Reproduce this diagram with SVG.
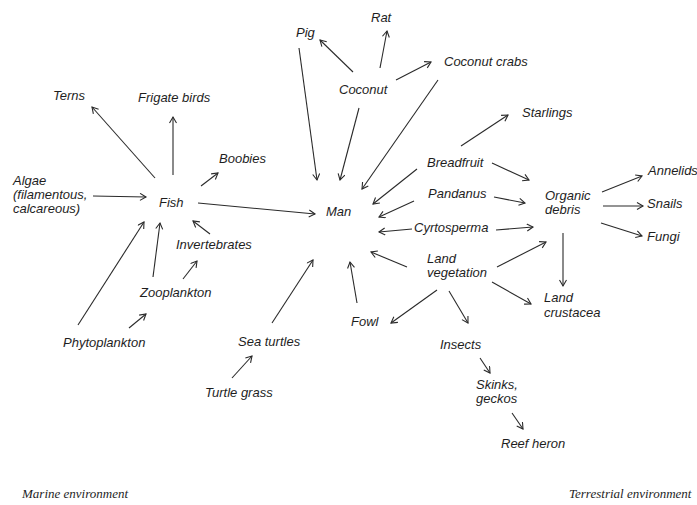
<svg xmlns="http://www.w3.org/2000/svg" width="697" height="505" viewBox="0 0 697 505">
<defs>
<style>
text{font-family:"Liberation Sans",Arial,sans-serif;font-style:italic;font-size:13px;fill:#1e1e1e}
text.env{font-family:"Liberation Serif","Times New Roman",serif;font-size:13px}
#connectors line{stroke:#2a2a2a;stroke-width:1.1;fill:none;marker-end:url(#ah)}
</style>
<marker id="ah" markerUnits="userSpaceOnUse" markerWidth="10" markerHeight="10" refX="7" refY="4" orient="auto">
<path d="M1,0.5 L7,4 L1,7.5" fill="none" stroke="#2a2a2a" stroke-width="1.1"/>
</marker>
</defs>
<rect width="697" height="505" fill="#ffffff"/>
<g id="connectors">
<line x1="353" y1="72" x2="320" y2="40"/>
<line x1="380" y1="68" x2="387" y2="31"/>
<line x1="396" y1="80" x2="431" y2="62"/>
<line x1="299" y1="48" x2="317" y2="180"/>
<line x1="359" y1="108" x2="340" y2="180"/>
<line x1="438" y1="80" x2="362" y2="189"/>
<line x1="461" y1="146" x2="508" y2="115"/>
<line x1="417" y1="169" x2="373" y2="204"/>
<line x1="492" y1="163" x2="529" y2="180"/>
<line x1="414" y1="201" x2="379" y2="217"/>
<line x1="494" y1="197" x2="525" y2="203"/>
<line x1="412" y1="229" x2="379" y2="232"/>
<line x1="496" y1="230" x2="533" y2="227"/>
<line x1="407" y1="267" x2="371" y2="252"/>
<line x1="497" y1="267" x2="546" y2="242"/>
<line x1="492" y1="282" x2="531" y2="304"/>
<line x1="563" y1="233" x2="563" y2="286"/>
<line x1="602" y1="192" x2="642" y2="176"/>
<line x1="603" y1="206" x2="643" y2="206"/>
<line x1="601" y1="223" x2="642" y2="236"/>
<line x1="437" y1="290" x2="391" y2="323"/>
<line x1="449" y1="291" x2="468" y2="323"/>
<line x1="357" y1="303" x2="350" y2="262"/>
<line x1="480" y1="358" x2="490" y2="373"/>
<line x1="512" y1="413" x2="523" y2="429"/>
<line x1="272" y1="323" x2="313" y2="260"/>
<line x1="232" y1="378" x2="252" y2="356"/>
<line x1="155" y1="178" x2="92" y2="107"/>
<line x1="173" y1="175" x2="173" y2="117"/>
<line x1="201" y1="186" x2="218" y2="173"/>
<line x1="93" y1="196" x2="146" y2="197"/>
<line x1="198" y1="203" x2="315" y2="214"/>
<line x1="210" y1="234" x2="193" y2="221"/>
<line x1="153" y1="277" x2="160" y2="223"/>
<line x1="183" y1="279" x2="197" y2="261"/>
<line x1="78" y1="325" x2="144" y2="222"/>
<line x1="129" y1="328" x2="146" y2="314"/>
</g>
<g id="rat"><text x="371" y="22">Rat</text></g>
<g id="pig"><text x="296" y="37">Pig</text></g>
<g id="coconut-crabs"><text x="444" y="66">Coconut crabs</text></g>
<g id="coconut"><text x="339" y="94">Coconut</text></g>
<g id="terns"><text x="53" y="100">Terns</text></g>
<g id="frigate-birds"><text x="138" y="102">Frigate birds</text></g>
<g id="starlings"><text x="522" y="117">Starlings</text></g>
<g id="breadfruit"><text x="427" y="167">Breadfruit</text></g>
<g id="boobies"><text x="219" y="163">Boobies</text></g>
<g id="annelids"><text x="648" y="175">Annelids</text></g>
<g id="algae"><text x="13" y="185">Algae<tspan x="13" dy="14">(filamentous,</tspan><tspan x="13" dy="14">calcareous)</tspan></text></g>
<g id="fish"><text x="159" y="207">Fish</text></g>
<g id="pandanus"><text x="428" y="198">Pandanus</text></g>
<g id="organic-debris"><text x="545" y="200">Organic<tspan x="545" dy="14">debris</tspan></text></g>
<g id="snails"><text x="647" y="208">Snails</text></g>
<g id="man"><text x="326" y="216">Man</text></g>
<g id="cyrtosperma"><text x="414" y="232">Cyrtosperma</text></g>
<g id="fungi"><text x="647" y="241">Fungi</text></g>
<g id="invertebrates"><text x="176" y="249">Invertebrates</text></g>
<g id="land-vegetation"><text x="427" y="263">Land<tspan x="427" dy="14">vegetation</tspan></text></g>
<g id="zooplankton"><text x="140" y="297">Zooplankton</text></g>
<g id="land-crustacea"><text x="544" y="302">Land<tspan x="544" dy="15">crustacea</tspan></text></g>
<g id="fowl"><text x="351" y="326">Fowl</text></g>
<g id="phytoplankton"><text x="63" y="347">Phytoplankton</text></g>
<g id="sea-turtles"><text x="238" y="346">Sea turtles</text></g>
<g id="insects"><text x="440" y="349">Insects</text></g>
<g id="turtle-grass"><text x="205" y="397">Turtle grass</text></g>
<g id="skinks-geckos"><text x="476" y="389">Skinks,<tspan x="476" dy="14">geckos</tspan></text></g>
<g id="reef-heron"><text x="501" y="448">Reef heron</text></g>
<g id="marine-environment"><text class="env" x="22" y="498">Marine environment</text></g>
<g id="terrestrial-environment"><text class="env" x="569" y="498">Terrestrial environment</text></g>
</svg>
